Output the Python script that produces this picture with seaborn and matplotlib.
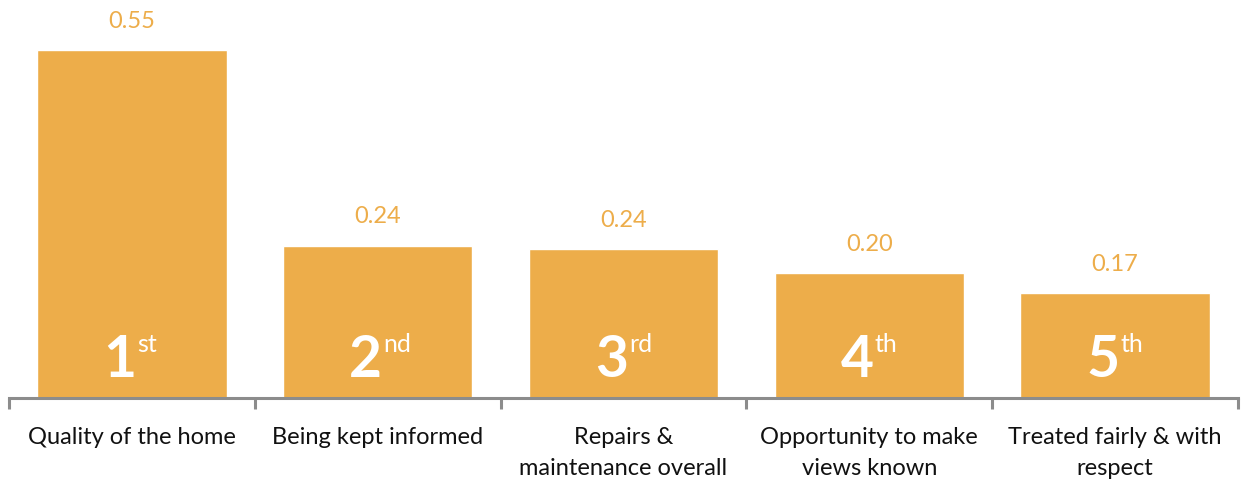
import matplotlib
matplotlib.use("Agg")
import matplotlib.pyplot as plt
import seaborn as sns

categories = ["Quality of the home", "Being kept informed", "Repairs &\nmaintenance overall",
              "Opportunity to make\nviews known", "Treated fairly & with\nrespect"]
values = [0.55, 0.241, 0.236, 0.198, 0.166]
rank_nums = ["1", "2", "3", "4", "5"]
rank_sups = ["st", "nd", "rd", "th", "th"]

bar_color = "#EDAD4A"
label_color = "#EDAD4A"
axis_color = "#8C8C8C"

sns.set_style("white")
plt.rcParams["font.family"] = ["Lato", "DejaVu Sans"]

fig = plt.figure(figsize=(12.44, 4.82), dpi=100)
ax = fig.add_axes([9 / 1244, 84 / 482, 1229 / 1244, 398 / 482])

sns.barplot(x=categories, y=values, color=bar_color, saturation=1, width=0.77, ax=ax)

ax.set_xlim(-0.5, len(categories) - 0.5)
ax.set_ylim(0, 0.629)
ax.set_yticks([])
ax.set_ylabel("")
for s in ["top", "left", "right"]:
    ax.spines[s].set_visible(False)
ax.spines["bottom"].set_color(axis_color)
ax.spines["bottom"].set_linewidth(2.2)

ax.set_xticks(range(len(categories)))
ax.set_xticklabels(categories, fontsize=17, color="#111111", linespacing=1.55, va="top")
ax.tick_params(axis="x", which="major", bottom=True, length=0, pad=21)
ax.set_xticks([i - 0.5 for i in range(len(categories) + 1)], minor=True)
ax.tick_params(axis="x", which="minor", bottom=True, length=8, width=2.2,
               color=axis_color, direction="out")

for i, v in enumerate(values):
    ax.annotate(f"{v:.2f}", xy=(i, v), xytext=(0, 13), textcoords="offset points",
                ha="center", va="bottom", fontsize=17, color=label_color)
    ax.annotate(rank_nums[i], xy=(i, 0), xytext=(3, 15), textcoords="offset points",
                ha="right", va="baseline", fontsize=41, fontweight="bold", color="white")
    ax.annotate(rank_sups[i], xy=(i, 0), xytext=(4, 33), textcoords="offset points",
                ha="left", va="baseline", fontsize=18, color="white")

fig.savefig("out.png", dpi=100)
